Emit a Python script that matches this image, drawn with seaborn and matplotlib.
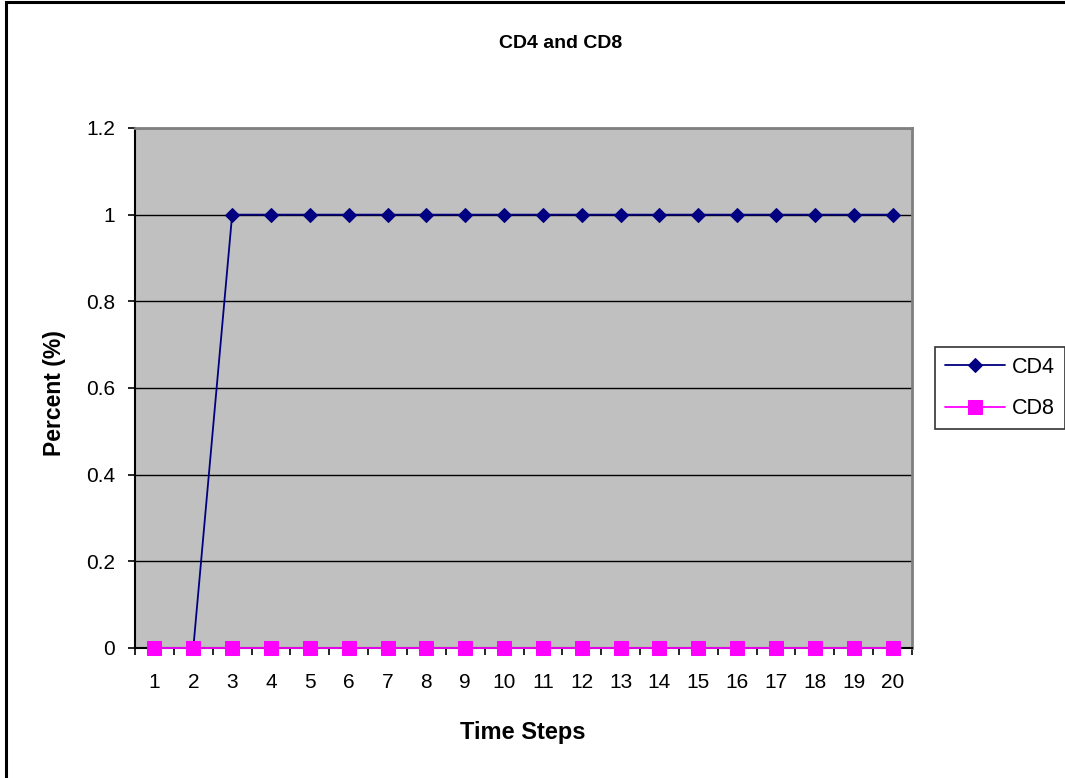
import matplotlib
matplotlib.use("Agg")
import matplotlib.pyplot as plt
import matplotlib.patches as mpatches
from matplotlib.ticker import FixedLocator, NullFormatter
import numpy as np
import pandas as pd
import seaborn as sns

# Series data
time_steps = list(range(1, 21))
cd4_values = [0, 0, 1, 1, 1, 1, 1, 1, 1, 1, 1, 1, 1, 1, 1, 1, 1, 1, 1, 1]
cd8_values = [0] * 20
series_names = ["CD4", "CD8"]
y_ticks = [0, 0.2, 0.4, 0.6, 0.8, 1, 1.2]
y_tick_labels = ["0", "0.2", "0.4", "0.6", "0.8", "1", "1.2"]

df = pd.DataFrame({
    "Time Steps": time_steps * 2,
    "Percent": cd4_values + cd8_values,
    "Series": ["CD4"] * len(time_steps) + ["CD8"] * len(time_steps),
})

sns.set_theme(style="white")
plt.rcParams["font.family"] = ["Liberation Sans", "DejaVu Sans"]
for key in ["text.color", "axes.labelcolor", "xtick.color", "ytick.color"]:
    plt.rcParams[key] = "black"

fig = plt.figure(figsize=(10.65, 7.78), dpi=100)
ax = fig.add_axes([0.1268, 0.1671, 0.7295, 0.6684])

# Outer chart frame (left and top edges visible)
frame = mpatches.Rectangle((0.0055, -0.05), 1.2, 1.047, transform=fig.transFigure,
                           fill=False, edgecolor="black", linewidth=2.2, zorder=0)
fig.patches.append(frame)

ax.set_facecolor("#C0C0C0")

palette = {"CD4": "#000080", "CD8": "#FF00FF"}
markers = {"CD4": "D", "CD8": "s"}
sizes_map = {"CD4": 7, "CD8": 9.5}

for name in series_names:
    sub = df[df["Series"] == name]
    sns.lineplot(data=sub, x="Time Steps", y="Percent", ax=ax,
                 color=palette[name], marker=markers[name],
                 markersize=sizes_map[name], markeredgecolor=palette[name],
                 linewidth=1.3, label=name, zorder=3, clip_on=False)

ax.set_xlim(0.5, 20.5)
ax.set_ylim(0, 1.2)

# Horizontal gridlines
ax.yaxis.grid(True, color="black", linewidth=1.0)
ax.xaxis.grid(False)
ax.set_axisbelow(True)

ax.set_yticks(y_ticks)
ax.set_yticklabels(y_tick_labels, fontsize=15)
ax.tick_params(axis="y", direction="out", length=5, width=1.2, color="black",
               left=True, pad=9.5)

# Category labels centred, tick marks between categories
ax.xaxis.set_major_locator(FixedLocator(np.arange(0.5, 21, 1)))
ax.xaxis.set_major_formatter(NullFormatter())
ax.xaxis.set_minor_locator(FixedLocator(time_steps))
ax.set_xticklabels([str(t) for t in time_steps], minor=True, fontsize=15)
ax.tick_params(axis="x", which="major", direction="out", length=5, width=1.2,
               color="black", bottom=True)
ax.tick_params(axis="x", which="minor", length=0, pad=18)

for side in ["left", "bottom"]:
    ax.spines[side].set_color("black")
    ax.spines[side].set_linewidth(1.5)
for side in ["top", "right"]:
    ax.spines[side].set_color("#808080")
    ax.spines[side].set_linewidth(2.0)
    ax.spines[side].set_visible(True)

ax.set_xlabel("Time Steps", fontsize=17, fontweight="bold")
ax.xaxis.set_label_coords(0.4987, -0.140)
ax.set_ylabel("Percent (%)", fontsize=16.5, fontweight="bold", va="center")
ax.yaxis.set_label_coords(-0.1043, 0.49)
fig.text(0.526, 0.944, "CD4 and CD8", ha="center", va="center",
         fontsize=14, fontweight="bold")

leg = ax.legend(loc="center left", bbox_to_anchor=(1.03, 0.5), frameon=True,
                fancybox=False, fontsize=15.5, handlelength=2.8,
                borderpad=0.45, labelspacing=0.95, handletextpad=0.33,
                borderaxespad=0)
leg.get_frame().set_edgecolor("black")
leg.get_frame().set_linewidth(1.2)

fig.savefig("out.png", dpi=100, facecolor="white")
